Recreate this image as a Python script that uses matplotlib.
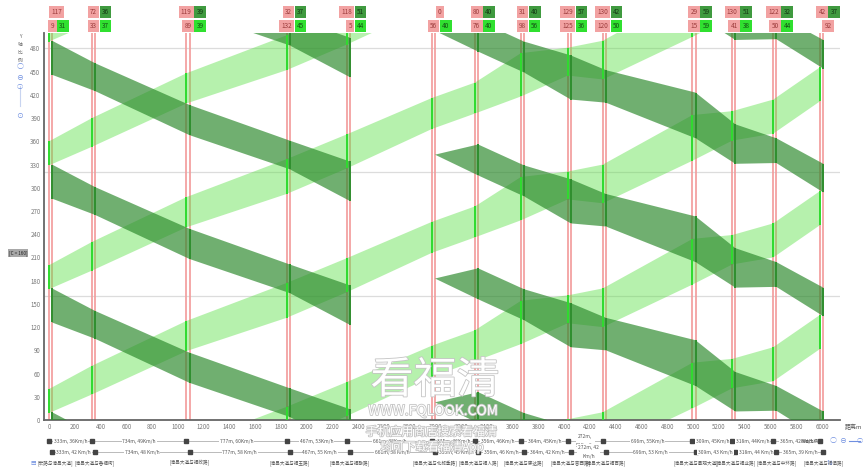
import numpy as np
import matplotlib
matplotlib.use('Agg')
import matplotlib.pyplot as plt
from matplotlib.patches import Polygon
from matplotlib.lines import Line2D
from matplotlib.transforms import blended_transform_factory
import matplotlib.patheffects as pe

plt.rcParams['font.family'] = ['Noto Sans CJK SC', 'DejaVu Sans']

############################ dados ############################
C = 160  # ciclo (s)

names = ['[宏路与清昌大道]', '[清昌大道与香福街]', '[清昌大道与福政路]',
         '[清昌大道与福玉路]', '[清昌大道与福融路]', '[清昌大道与北郎季路]',
         '[清昌大道与福人路]', '[清昌大道与康达路]', '[清昌大道与音西路]',
         '[清昌大道与福百路]', '[清昌大道与景观大道]', '[清昌大道与福业路]',
         '[清昌大道与中环路]', '[清昌大道与福俱路]']

seg_len = [333, 734, 777, 467, 661, 335, 356, 364, 272, 696, 309, 318, 365]
out_speed = [36, 49, 60, 53, 38, 46, 46, 45, 51, 55, 45, 44, 42]   # km/h
in_speed = [42, 48, 58, 55, 38, 45, 46, 42, 42, 53, 43, 44, 39]    # km/h

# linha de baixo dos rotulos do topo (sentido de ida)
out_offset = [9, 33, 89, 132, 5, 56, 76, 98, 125, 120, 15, 41, 50, 92]
out_green = [31, 37, 39, 45, 44, 40, 40, 56, 36, 50, 59, 38, 44, 44]
# linha de cima (sentido de volta, defasagem relativa)
in_offset = [117, 72, 119, 32, 118, 0, 80, 31, 129, 130, 29, 130, 122, 42]
in_green = [44, 36, 39, 37, 51, 0, 40, 40, 57, 42, 59, 51, 32, 37]

yticks = list(range(0, 481, 30))
xticks = list(range(0, 6001, 200))
grid_y = [160, 320, 480]

###############################################################
dist = np.concatenate([[0], np.cumsum(seg_len)])
n = len(dist)
LANE = 24  # deslocamento da linha do sentido de volta (m)
in_start = [(out_offset[i] + in_offset[i]) % C for i in range(n)]

PINK = '#f29a9a'
LIGHT = '#5fe04a'
DARK = '#2d8a2d'
BRIGHT = '#2fdc2f'
DKBAR = '#2f8f2f'

W, H = 863, 473
fig = plt.figure(figsize=(W / 100, H / 100), dpi=100)
ax = fig.add_axes([44 / W, 1 - 420 / H, 796 / W, 387 / H])
ax.set_xlim(-39, 6140)
ax.set_ylim(0, 500)

for gy in grid_y:
    ax.axhline(gy, color='#dcdcdc', lw=0.9, zorder=0)


def nearest(a0, T, b0):
    k = round((a0 + T - b0) / C)
    return b0 + k * C


def janela_final(a0, a1, T, start, green, last):
    # janela de chegada no cruzamento seguinte
    if green > 0:
        b0 = nearest(a0, T, start)
        return b0, b0 + green
    if last:
        return a0 + T, a1 + T
    return a0 + T, a0 + T  # sem verde: faixa termina num ponto


# faixas de ida (verde claro)
for i in range(n - 1):
    if out_green[i] == 0:
        continue
    a0 = out_offset[i]
    a1 = a0 + out_green[i]
    T = seg_len[i] / (out_speed[i] / 3.6)
    b0, b1 = janela_final(a0, a1, T, out_offset[i + 1], out_green[i + 1], i + 1 == n - 1)
    x0, x1 = dist[i], dist[i + 1]
    for c in range(-2, 4):
        s = c * C
        ax.add_patch(Polygon([(x0, a0 + s), (x0, a1 + s), (x1, b1 + s), (x1, b0 + s)],
                             closed=True, fc=LIGHT, ec='none', alpha=0.45, zorder=2))

# faixas de volta (verde escuro)
for i in range(n - 1):
    if in_green[i + 1] == 0:
        continue
    a0 = in_start[i + 1]
    a1 = a0 + in_green[i + 1]
    T = seg_len[i] / (in_speed[i] / 3.6)
    b0, b1 = janela_final(a0, a1, T, in_start[i], in_green[i], i == 0)
    x0, x1 = dist[i + 1] + LANE, dist[i] + LANE
    for c in range(-2, 4):
        s = c * C
        ax.add_patch(Polygon([(x0, a0 + s), (x0, a1 + s), (x1, b1 + s), (x1, b0 + s)],
                             closed=True, fc=DARK, ec='none', alpha=0.68, zorder=3))

# sinais
for i in range(n):
    for xl in (dist[i], dist[i] + LANE):
        ax.plot([xl, xl], [0, 500], color=PINK, lw=1.2, zorder=1, solid_capstyle='butt')
    for c in range(-1, 4):
        s = c * C
        if out_green[i] > 0:
            ax.plot([dist[i]] * 2, [out_offset[i] + s, out_offset[i] + out_green[i] + s],
                    color=BRIGHT, lw=1.4, zorder=4, solid_capstyle='butt')
        if in_green[i] > 0:
            ax.plot([dist[i] + LANE] * 2, [in_start[i] + s, in_start[i] + in_green[i] + s],
                    color=DKBAR, lw=1.4, zorder=4, solid_capstyle='butt')

# eixos
ax.set_xticks(xticks)
ax.set_yticks(yticks)
ax.tick_params(length=0, labelsize=4.4, colors='#777777', pad=2.5)
for sp in ('top', 'right'):
    ax.spines[sp].set_visible(False)
for sp in ('left', 'bottom'):
    ax.spines[sp].set_color('#666666')
    ax.spines[sp].set_linewidth(1.3)
fig.text(845 / W, 1 - 427 / H, '距离m', fontsize=4.3, color='#555555', va='center')

tr = blended_transform_factory(ax.transData, fig.transFigure)


# rotulos do topo
def box(x, y, txt, fc, tc, ha):
    ax.text(x, y, txt, transform=tr, ha=ha, va='center', fontsize=4.6, color=tc,
            clip_on=False, zorder=6,
            bbox=dict(boxstyle='square,pad=0.35', fc=fc, ec='none'))


ROW1, ROW2 = 1 - 12 / H, 1 - 26 / H
for i in range(n):
    xa = dist[i] + 60
    # sentido de volta
    if i > 0 and in_green[i] > 0:
        box(xa - 19, ROW1, str(in_offset[i]), '#f2a2a2', '#9b3b3b', 'right')
        box(xa + 19, ROW1, str(in_green[i]), '#3f9a3f', '#143a14', 'left')
    else:
        box(xa, ROW1, str(in_offset[i]), '#f2a2a2', '#9b3b3b', 'center')
    # sentido de ida
    if i < n - 1:
        box(xa - 19, ROW2, str(out_offset[i]), '#f2a2a2', '#9b3b3b', 'right')
        box(xa + 19, ROW2, str(out_green[i]), '#30e030', '#145014', 'left')
    else:
        box(xa, ROW2, str(out_offset[i]), '#f2a2a2', '#9b3b3b', 'center')

# distancias e velocidades
UP, LO, NM = 1 - 441 / H, 1 - 452 / H, 1 - 463 / H
for row, xs, spd, sep in ((UP, dist, out_speed, ''), (LO, dist + LANE, in_speed, ' ')):
    ax.plot(xs, [row] * n, color='#b0b0b0', lw=0.6, transform=tr, clip_on=False, zorder=5)
    ax.plot(xs, [row] * n, 's', color='#444444', ms=2.2, transform=tr, clip_on=False, zorder=6)
    for i in range(n - 1):
        L, v = seg_len[i], spd[i]
        if L < 300:
            txt = (f'{L}m,\n{v}Km/h' if sep == '' else f'{L}m, {v}\nKm/h')
        else:
            txt = f'{L}m, {v}{sep}Km/h'
        ax.text((xs[i] + xs[i + 1]) / 2, row, txt, transform=tr, ha='center', va='center',
                fontsize=3.5, color='#555555', clip_on=False, zorder=7, linespacing=1.9,
                bbox=dict(boxstyle='square,pad=0.15', fc='white', ec='none'))

# nomes dos cruzamentos
for i in range(n):
    if i == 0:
        ax.text(-93, NM, names[i], transform=tr, ha='left', va='center', fontsize=3.3,
                color='#555555', clip_on=False)
    else:
        ax.text(dist[i] + LANE, NM, names[i], transform=tr, ha='center', va='center',
                fontsize=3.3, color='#555555', clip_on=False)

BLUE = '#6f8fe0'
fig.text(33 / W, NM, '▤', fontsize=4, color=BLUE, ha='center', va='center')
fig.text(829 / W, NM, '⇅', fontsize=4, color=BLUE, ha='center', va='center')

# controles de escala
fig.text(20 / W, 1 - 48 / H, 'Y\n轴\n比\n例', fontsize=3.4, color='#666666', ha='center',
         va='center', linespacing=1.75)
fig.text(20 / W, 1 - 67 / H, '○', fontsize=5, color=BLUE, ha='center', va='center')
fig.text(20 / W, 1 - 78 / H, '⊖', fontsize=5, color=BLUE, ha='center', va='center')
fig.add_artist(Line2D([20 / W, 20 / W], [1 - 86 / H, 1 - 106 / H], color='#c8d4f0', lw=0.8))
fig.text(20 / W, 1 - 87 / H, '○', fontsize=4.5, color=BLUE, ha='center', va='center')
fig.text(20 / W, 1 - 116 / H, '⊙', fontsize=5, color=BLUE, ha='center', va='center')

fig.text(811 / W, UP, 'X轴比例', fontsize=3.6, color='#555555', ha='center', va='center',
         zorder=8)
fig.text(833 / W, UP, '○', fontsize=5, color=BLUE, ha='center', va='center')
fig.text(843 / W, UP, '⊖', fontsize=5, color=BLUE, ha='center', va='center')
fig.add_artist(Line2D([849 / W, 860 / W], [UP, UP], color=BLUE, lw=0.8))
fig.text(860 / W, UP, '○', fontsize=4.5, color=BLUE, ha='center', va='center')

fig.text(18 / W, 1 - 253 / H, '[C = 160]', fontsize=3.4, color='#222222', ha='center',
         va='center', bbox=dict(boxstyle='square,pad=0.2', fc='#a8a8a8', ec='none'))

# marca d'agua
wm = [pe.withStroke(linewidth=1.2, foreground='#c4c4c4')]
fig.text(435 / W, 1 - 381 / H, '看福清', fontsize=31, color='white', ha='center',
         va='center', path_effects=wm, zorder=10)
fig.text(433 / W, 1 - 411 / H, 'WWW.FQLOOK.COM', fontsize=10, color='white', ha='center',
         va='center', path_effects=wm, zorder=10)
fig.text(431 / W, 1 - 432 / H, '手机应用商店搜索看福清', fontsize=8.6, color='white',
         ha='center', va='center', path_effects=wm, zorder=10)
fig.text(432 / W, 1 - 447 / H, '均可下载看福清App', fontsize=8.4, color='white',
         ha='center', va='center', path_effects=wm, zorder=10)

fig.savefig('out.png', dpi=100)
